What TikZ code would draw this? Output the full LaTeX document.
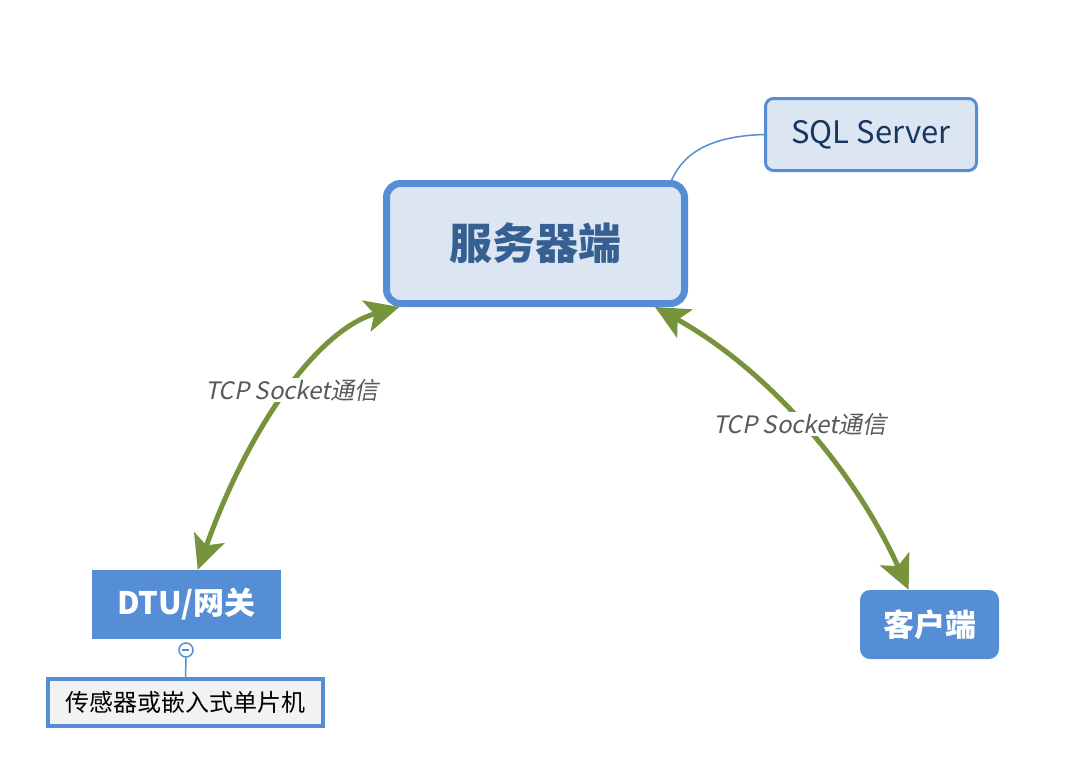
\documentclass[tikz,border=0pt]{standalone}
\usepackage{fontspec}
\setmainfont{Noto Sans CJK SC}
\newfontfamily\labfont[FakeSlant=0.2]{Noto Sans CJK SC}
\usetikzlibrary{arrows.meta,calc}
\definecolor{bblue}{HTML}{558ED5}
\definecolor{lfill}{HTML}{DCE6F2}
\definecolor{srvtext}{HTML}{376092}
\definecolor{sqltext}{HTML}{17375E}
\definecolor{ggreen}{HTML}{77933C}
\definecolor{lgray}{HTML}{595959}
\definecolor{gfill}{HTML}{F2F2F2}
\tikzset{
  srvbox/.style={draw=bblue, line width=7pt, fill=lfill, rounded corners=14pt,
    minimum width=298pt, minimum height=120pt, text=srvtext,
    font=\fontsize{43}{50}\selectfont\bfseries},
  sqlbox/.style={draw=bblue, line width=3pt, fill=lfill, rounded corners=8pt,
    minimum width=211pt, minimum height=72pt, text=sqltext,
    font=\fontsize{31}{36}\selectfont},
  solidbox/.style={fill=bblue, text=white, font=\fontsize{31}{36}\selectfont\bfseries},
  leafbox/.style={draw=bblue, line width=4.5pt, fill=gfill, text=black,
    minimum width=275pt, minimum height=47pt, font=\fontsize{24}{29}\selectfont},
  garrow/.style={draw=ggreen, line width=5pt,
    {Stealth[length=34pt,width=32pt,inset=8pt]}-{Stealth[length=34pt,width=32pt,inset=8pt]}},
  toggle/.style={circle, draw=bblue, line width=1.5pt, fill=white, minimum size=14pt, inner sep=0pt},
  lab/.style={fill=white, inner sep=1pt, text=lgray, font=\fontsize{24}{28}\selectfont\labfont},
  thin/.style={draw=bblue, line width=1.5pt}
}
\begin{document}
\begin{tikzpicture}[x=1pt, y=-1pt]
\useasboundingbox (0,0) rectangle (1080,780);
\node[srvbox] (srv) at (535.5,243.5) {服务器端};
\node[sqlbox] (sql) at (871,134.5) {SQL Server};
\node[solidbox, minimum width=189pt, minimum height=69pt] (dtu) at (186.5,604.5) {DTU/网关};
\node[solidbox, rounded corners=10pt, minimum width=139pt, minimum height=69pt] (cli) at (929.5,624.5) {客户端};
\node[leafbox] (leaf) at (185.5,702.5) {传感器或嵌入式单片机};
\node[toggle] (tog) at (186,650) {};
\draw[bblue, line width=1.5pt] (tog.west) ++(3.5,0) -- ++(7,0);
\draw[thin] (tog.south) -- (leaf.north);
\draw[thin] (srv.25) .. controls (685,150) and (715,136) .. (sql.west);
\draw[garrow] (srv.205) .. controls (323,328) and (253,416) .. (dtu.72);
\draw[garrow] (srv.-28) .. controls (763,367) and (851,463) .. (cli.121);
\node[lab] (l1) at (292,390) {TCP Socket通信};
\node[lab] (l2) at (800,424) {TCP Socket通信};
\end{tikzpicture}
\end{document}
